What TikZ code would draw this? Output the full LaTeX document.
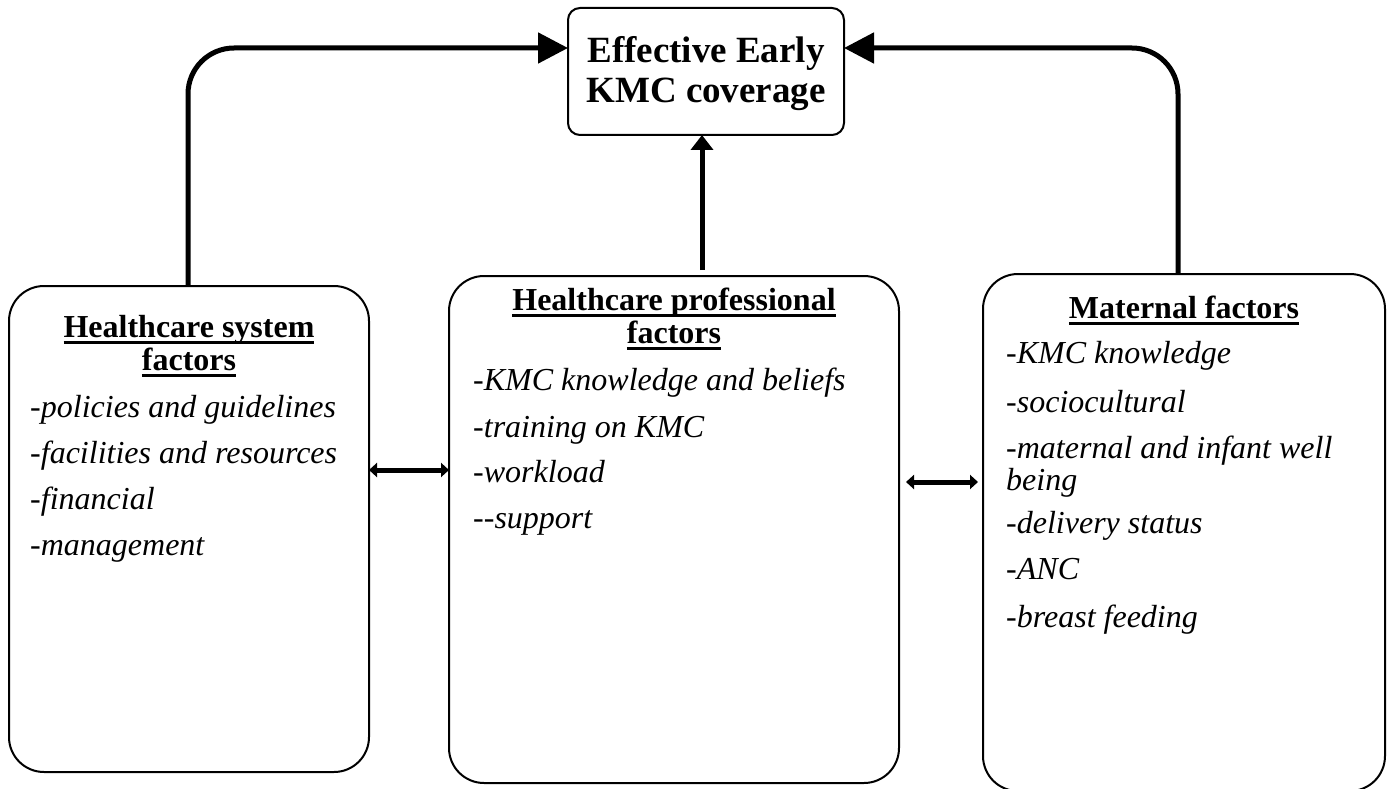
\documentclass[tikz,border=0pt]{standalone}
\usepackage{fontspec}
\setmainfont{Liberation Serif}
\usetikzlibrary{arrows.meta,calc}
\newcommand\myul[1]{\sbox0{#1}\rlap{\rule[-6.5pt]{\wd0}{2.4pt}}\usebox0}
\tikzset{
  factorbox/.style={draw=black, line width=2pt, rounded corners=35pt, inner sep=0pt, outer sep=0pt, fill=white},
  topbox/.style={draw=black, line width=2pt, rounded corners=12pt, inner sep=0pt, outer sep=0pt,
    minimum width=276pt, minimum height=127pt, align=center,
    font=\fontsize{37}{40}\selectfont\bfseries},
  headtxt/.style={anchor=base, inner sep=0pt, font=\fontsize{32}{33}\selectfont\bfseries},
  itemtxt/.style={anchor=base west, inner sep=0pt, font=\fontsize{32}{32}\selectfont\itshape},
  bigarrow/.style={line width=5pt, rounded corners=46pt, -{Triangle[length=30pt,width=30pt]}},
  midarrow/.style={line width=5pt, -{Triangle[length=15pt,width=22pt]}},
  dblarrow/.style={line width=5pt, {Triangle[length=8pt,width=14pt]}-{Triangle[length=8pt,width=14pt]}}
}
\begin{document}
\begin{tikzpicture}[x=1pt,y=-1pt]
\useasboundingbox (0,0) rectangle (1390,789);
\fill[white] (0,0) rectangle (1390,789);

% boxes
\node[topbox] (top) at (706,71.5) {\rule{0pt}{31pt}Effective Early\\KMC coverage};
\node[factorbox, minimum width=360pt, minimum height=486pt] (hs) at (189,529) {};
\node[factorbox, minimum width=450pt, minimum height=507pt] (hp) at (674,529.5) {};
\node[factorbox, minimum width=402pt, minimum height=517pt] (mf) at (1184,532.5) {};

% headings
\node[headtxt] (hs1) at (189,337) {\myul{Healthcare system}};
\node[headtxt] (hs2) at (189,370) {\myul{factors}};
\node[headtxt] (hp1) at (674,310) {\myul{Healthcare professional}};
\node[headtxt] (hp2) at (674,343) {\myul{factors}};
\node[headtxt] (mf1) at (1184,318) {\myul{Maternal factors}};

% left items
\node[itemtxt] (hsa) at (30,417) {-policies and guidelines};
\node[itemtxt] (hsb) at (30,463) {-facilities and resources};
\node[itemtxt] (hsc) at (30,509) {-financial};
\node[itemtxt] (hsd) at (30,555) {-management};

% middle items
\node[itemtxt] (hpa) at (473,390) {-KMC knowledge and beliefs};
\node[itemtxt] (hpb) at (473,437) {-training on KMC};
\node[itemtxt] (hpc) at (473,482) {-workload};
\node[itemtxt] (hpd) at (473,528) {-{}-support};

% right items
\node[itemtxt] (mfa) at (1006,363) {-KMC knowledge};
\node[itemtxt] (mfb) at (1006,412) {-sociocultural};
\node[itemtxt] (mfc) at (1006,458) {-maternal and infant well};
\node[itemtxt] (mfc2) at (1006,490) {being};
\node[itemtxt] (mfd) at (1006,533) {-delivery status};
\node[itemtxt] (mfe) at (1006,579) {-ANC};
\node[itemtxt] (mff) at (1006,627) {-breast feeding};

% connectors
\draw[bigarrow] ($(hs.north)+(-1,0)$) |- ($(top.west)+(0,-23.5)$);
\draw[bigarrow] ($(mf.north)+(-6,0)$) |- ($(top.east)+(0,-23.5)$);
\draw[midarrow] ($(top.south |- hp.north)+(-4,-6)$) -- ($(top.south)+(-4,0)$);
\draw[dblarrow] ($(hs.east)+(0,-59)$) -- ($(hp.west)+(0,-59.5)$);
\draw[dblarrow] ($(hp.east)+(7,-47.5)$) -- ($(mf.west)+(-5,-50.5)$);
\end{tikzpicture}
\end{document}
